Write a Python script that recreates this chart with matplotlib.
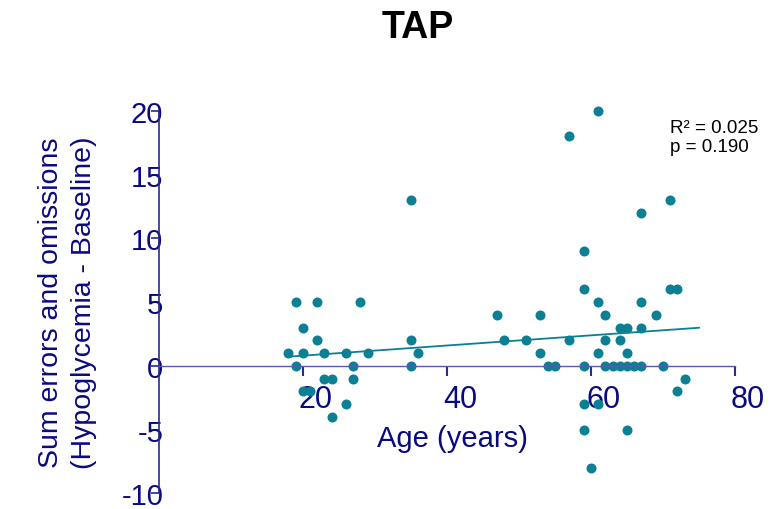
import matplotlib.pyplot as plt
from matplotlib.transforms import ScaledTranslation

# values
age = [18, 19, 19, 20, 20, 20, 21, 22, 22, 23, 23, 24, 24, 26, 26, 27, 27, 28, 29,
       35, 35, 35, 36, 47, 48, 51,
       53, 53, 54, 55, 57, 57, 59, 59, 59, 59, 59, 60, 61, 61, 61, 61, 62, 62, 62,
       63, 64, 64, 64, 65, 65, 65, 65, 66, 67, 67, 67, 67, 69, 70, 71, 71, 72, 72, 73]
score = [1, 5, 0, 3, 1, -2, -2, 5, 2, 1, -1, -1, -4, 1, -3, 0, -1, 5, 1,
         13, 2, 0, 1, 4, 2, 2,
         4, 1, 0, 0, 18, 2, 9, 6, 0, -3, -5, -8, 20, 5, 1, -3, 4, 2, 0,
         0, 3, 2, 0, 3, 1, 0, -5, 0, 12, 5, 3, 0, 4, 0, 13, 6, 6, -2, -1]

# regression line end points
fit_age = [18, 75]
fit_score = [0.73, 3.0]

x_ticks = [20, 40, 60, 80]
y_ticks = [-10, -5, 0, 5, 10, 15, 20]
stats = ['R\u00b2 = 0.025', 'p = 0.190']

navy = '#0a0a80'
axis_col = '#2a2a90'
teal = '#0b7f93'

plt.rcParams['font.family'] = ['Liberation Sans', 'DejaVu Sans']
plt.rcParams['axes.unicode_minus'] = False

fig = plt.figure(figsize=(7.73, 5.10), dpi=100)
ax = fig.add_axes([0.2053, 0.0304, 0.7455, 0.75])

ax.plot(fit_age, fit_score, color=teal, linewidth=1.3)
ax.plot(age, score, 'o', color=teal, markersize=7.2, markeredgewidth=0, clip_on=False)

ax.set_xlim(0, 80)
ax.set_ylim(-10, 20)
ax.set_xticks(x_ticks)
ax.set_yticks(y_ticks)

for s in ['top', 'right']:
    ax.spines[s].set_visible(False)
ax.spines['bottom'].set_position(('data', 0))
ax.spines['bottom'].set_color('#5858b0')
ax.spines['left'].set_color(axis_col)
ax.spines['bottom'].set_linewidth(1.0)
ax.spines['left'].set_linewidth(1.2)

ax.tick_params(axis='x', direction='out', length=7.2, width=1.5, color=axis_col,
               labelsize=22, labelcolor=navy, pad=6)
ax.tick_params(axis='y', direction='out', length=5.8, width=1.2, color=axis_col,
               labelsize=21, labelcolor=navy, pad=-9)

# labels sit a bit to the right of their ticks in the reference
shift = ScaledTranslation(13 / 100, 0, fig.dpi_scale_trans)
for lab in ax.get_xticklabels():
    lab.set_transform(lab.get_transform() + shift)

ax.set_xlabel('Age (years)', fontsize=21, color=navy)
ax.xaxis.set_label_coords((452 - 158.7) / 576.3, 0.182)

ax.set_ylabel('Sum errors and omissions\n(Hypoglycemia - Baseline)', fontsize=20.5,
              color=navy, linespacing=1.35)
ax.yaxis.set_label_coords((97 - 158.7) / 576.3, 0.5)

ax.text(0.887, 0.978, stats[0] + '\n' + stats[1], transform=ax.transAxes,
        fontsize=13.5, color='black', va='top', ha='left', linespacing=1.15)

fig.text(418 / 773, 1 - 38 / 510, 'TAP', ha='center', va='baseline',
         fontsize=27, fontweight='bold', color='black')

fig.savefig('out.png', dpi=100)
